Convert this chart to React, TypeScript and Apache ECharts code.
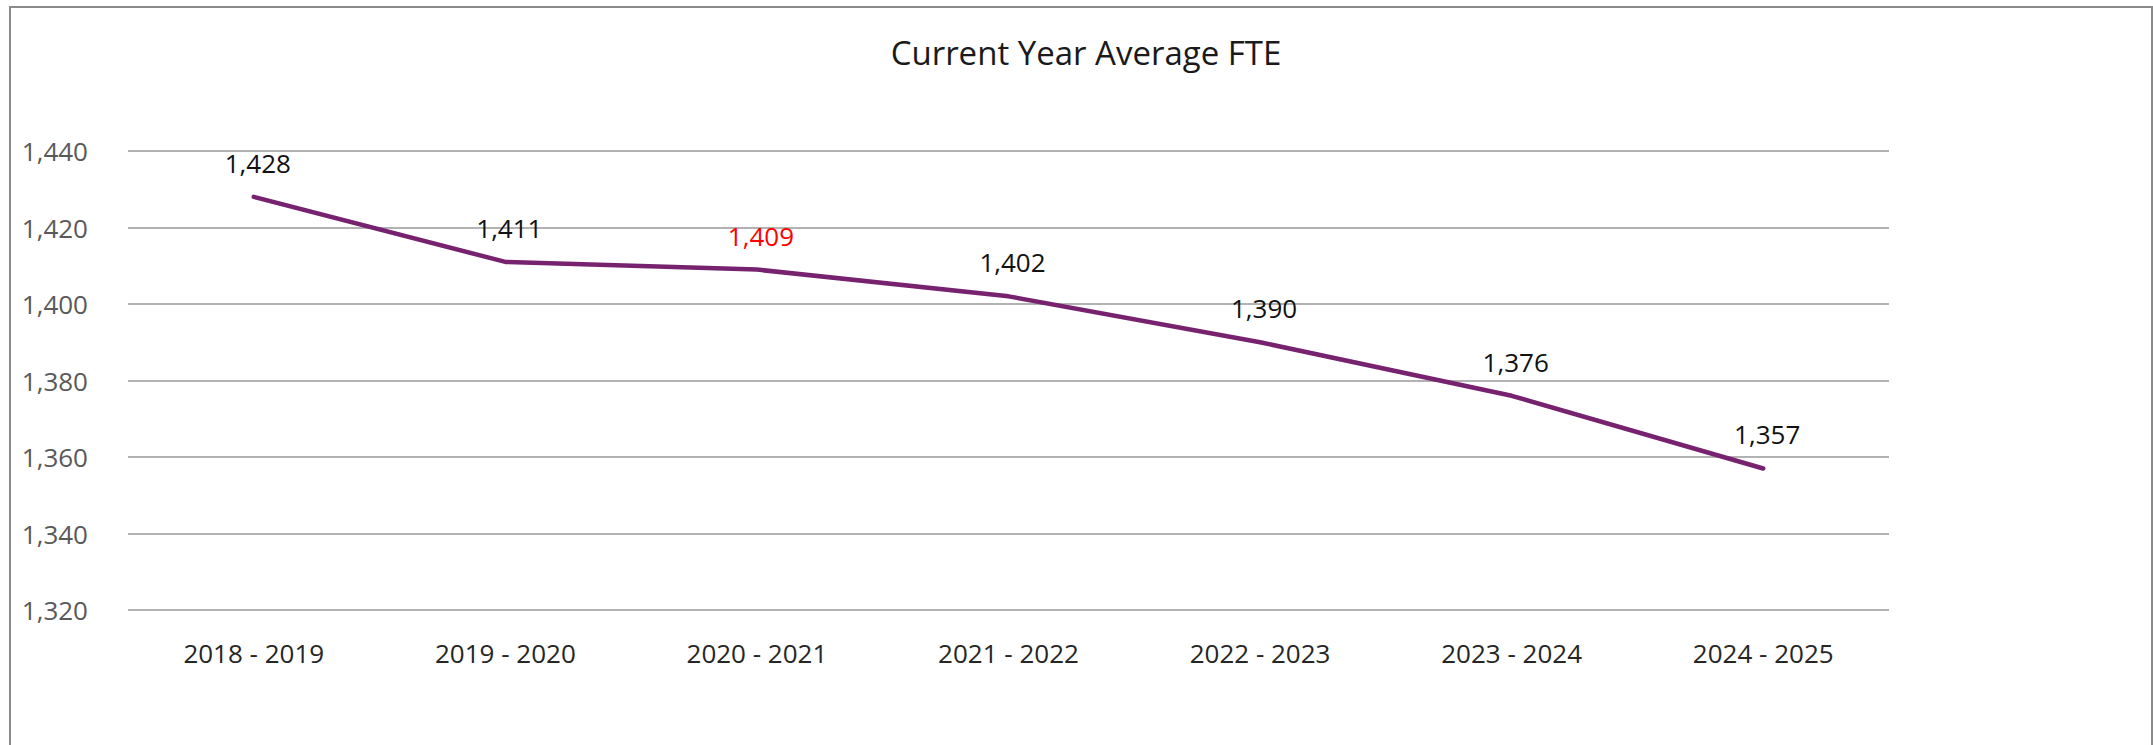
import React, { useEffect, useRef } from "react";
import * as echarts from "echarts";

const chartTitle = "Current Year Average FTE";
const categories = ["2018 - 2019", "2019 - 2020", "2020 - 2021", "2021 - 2022", "2022 - 2023", "2023 - 2024", "2024 - 2025"];
const fteValues = [1428, 1411, 1409, 1402, 1390, 1376, 1357];
const highlightedCategories = ["2020 - 2021"];
const yMin = 1320;
const yMax = 1440;
const yStep = 20;

const FONT = "'Open Sans', 'Noto Sans', sans-serif";
const fmt = (v: number) => Number(v).toLocaleString("en-US");

export default function App() {
  const ref = useRef<HTMLDivElement>(null);
  useEffect(() => {
    if (!ref.current) return;
    const chart = echarts.init(ref.current, undefined, { renderer: "svg" });
    chart.setOption({
      animation: false,
      backgroundColor: "#ffffff",
      title: {
        text: chartTitle,
        left: 1081,
        textAlign: "center",
        top: 31,
        textStyle: { fontFamily: FONT, fontSize: 33, fontWeight: "normal", color: "#1a1a1a" },
      },
      graphic: [
        {
          type: "rect",
          shape: { x: 10, y: 7, width: 2142, height: 780 },
          style: { fill: "none", stroke: "#8a8a8a", lineWidth: 2 },
          silent: true,
          z: 0,
        },
      ],
      grid: { left: 128, right: 264, top: 151, bottom: 135, containLabel: false },
      xAxis: {
        type: "category",
        data: categories,
        boundaryGap: true,
        axisLine: { show: false },
        axisTick: { show: false },
        axisLabel: { fontFamily: FONT, fontSize: 26, color: "#262626", margin: 30 },
      },
      yAxis: {
        type: "value",
        min: yMin,
        max: yMax,
        interval: yStep,
        axisLine: { show: false },
        axisTick: { show: false },
        axisLabel: { fontFamily: FONT, fontSize: 26, color: "#595959", margin: 40, formatter: (v: number) => fmt(v) },
        splitLine: { lineStyle: { color: "#999999", width: 1.5 } },
      },
      series: [
        {
          type: "line",
          data: fteValues.map((v, i) => ({
            value: v,
            label: highlightedCategories.includes(categories[i]) ? { color: "#ff0000" } : undefined,
          })),
          symbol: "circle",
          symbolSize: 2,
          showSymbol: true,
          lineStyle: { color: "#77226f", width: 4.5, cap: "round" },
          itemStyle: { color: "rgba(0,0,0,0)", borderWidth: 0 },
          label: {
            show: true,
            position: "top",
            distance: 20,
            offset: [4, 0],
            fontFamily: FONT,
            fontSize: 26,
            color: "#111111",
            formatter: (p: any) => fmt(p.value),
          },
        },
      ],
    });
    return () => chart.dispose();
  }, []);
  return <div ref={ref} style={{ position: "fixed", left: 0, top: 0, width: 2153, height: 745 }} />;
}
